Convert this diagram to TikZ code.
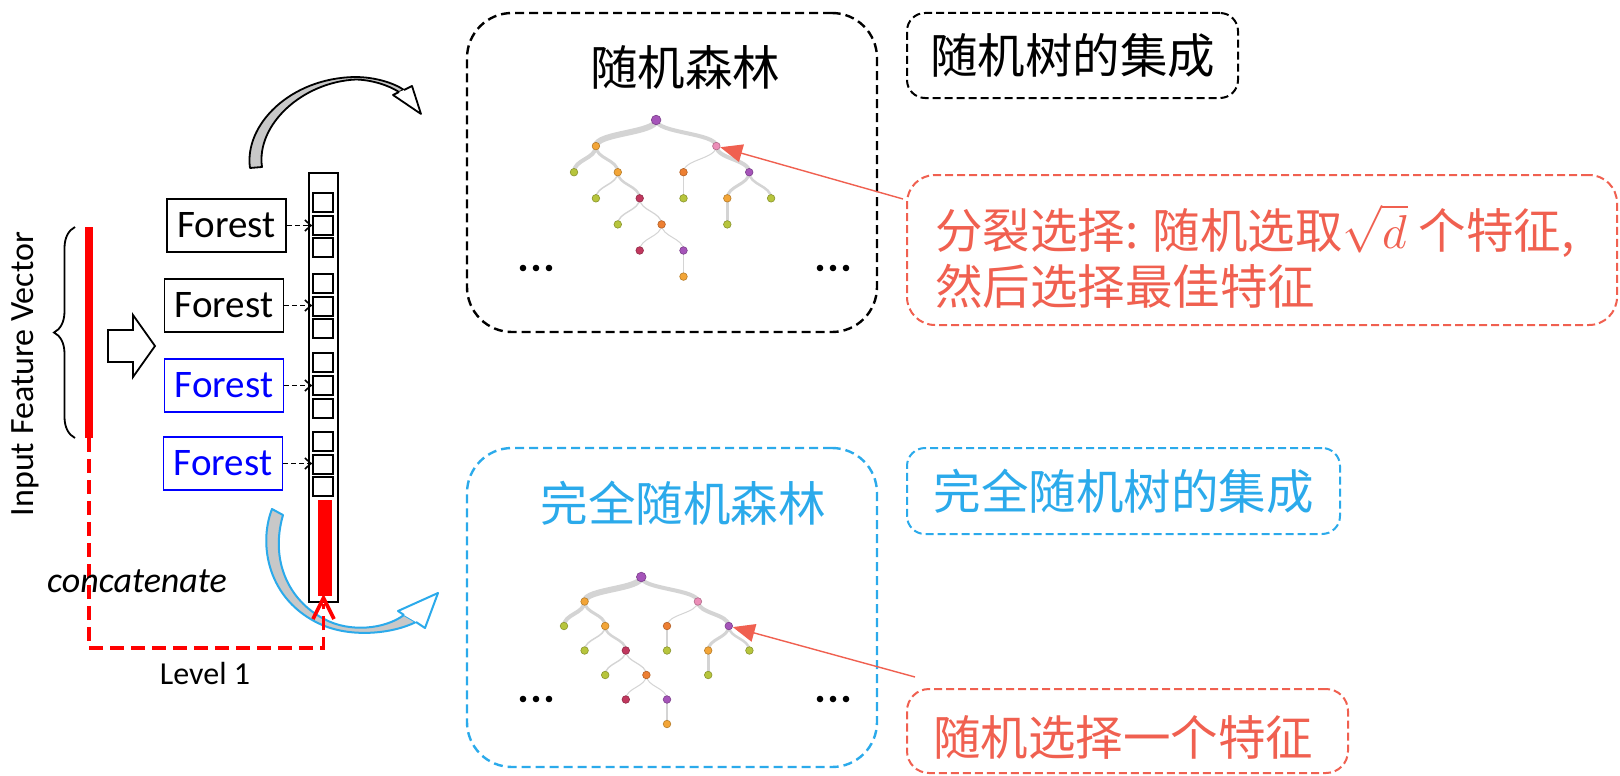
\documentclass[tikz,border=0pt]{standalone}
\usepackage{fontspec}
\usepackage{unicode-math}
\setmainfont{Carlito}
\newfontfamily\cjk{Noto Sans CJK SC}
\usetikzlibrary{arrows.meta,decorations.pathreplacing,calc}

\definecolor{fred}{RGB}{255,0,0}
\definecolor{fblue}{RGB}{0,0,255}
\definecolor{sky}{RGB}{43,170,235}
\definecolor{coral}{RGB}{240,96,80}
\definecolor{tpurple}{RGB}{165,84,185}
\definecolor{torange}{RGB}{243,165,55}
\definecolor{tpink}{RGB}{236,142,184}
\definecolor{tgreen}{RGB}{183,197,60}
\definecolor{tcrimson}{RGB}{193,55,94}
\definecolor{tdorange}{RGB}{237,127,50}
\definecolor{bodygray}{RGB}{200,200,200}
\definecolor{linkgray}{RGB}{212,212,212}

\newcommand\cjkbig{\cjk\fontsize{47.5}{56}\selectfont}

\tikzset{
  forestbox/.style={draw=black, line width=1.8pt, minimum width=119pt, minimum height=53pt,
    inner sep=0pt, font=\fontsize{39}{41}\selectfont},
  blueforest/.style={forestbox, draw=fblue, text=fblue, line width=1.5pt},
  slot/.style={draw, line width=1.8pt, minimum width=20pt, minimum height=19pt, inner sep=0pt},
  dasharrow/.style={draw, line width=1.6pt, dash pattern=on 5pt off 3pt,
    -{Straight Barb[length=6pt,width=11pt]}},
  reddash/.style={draw=fred, line width=3.6pt, dash pattern=on 14pt off 7pt},
  panel/.style={line width=2.4pt, dash pattern=on 9pt off 5pt, rounded corners=45pt,
    inner sep=0pt, minimum width=410pt, minimum height=319pt},
  tagbox/.style={line width=2pt, dash pattern=on 8pt off 4pt, rounded corners=18pt,
    inner sep=0pt, font=\cjkbig},
  pointer/.style={draw=coral, line width=1.4pt, -{Triangle[length=22pt,width=18pt]}},
  tn/.style={circle, fill=#1, draw=#1!75!black, line width=0.6pt, minimum size=7.6pt, inner sep=0pt},
  tdot/.style={circle, fill=black, minimum size=6.6pt, inner sep=0pt},
  tlink/.style={draw=linkgray, line cap=round},
}

% one curved link of a tree, parent #2 to child #3, width #1
\newcommand\tlinkto[3]{%
  \draw[tlink, line width=#1] (#2) .. controls ($(#2)!0.5!(#2|-#3)$) and ($(#3)!0.5!(#3|-#2)$) .. (#3);}

% a decision tree; #1 name prefix, #2,#3 origin, #4,#5 grid steps
\newcommand\decisiontree[5]{%
  \begin{scope}[shift={(#2,#3)}, x=#4pt, y=-#5pt]
    \coordinate (#1pr) at (3.75,0);
    \coordinate (#1pa) at (1,1);       \coordinate (#1pb) at (6.5,1);
    \coordinate (#1pa1) at (0,2);      \coordinate (#1pa2) at (2,2);
    \coordinate (#1pb1) at (5,2);      \coordinate (#1pb2) at (8,2);
    \coordinate (#1pa21) at (1,3);     \coordinate (#1pa22) at (3,3);
    \coordinate (#1pb11) at (5,3);     \coordinate (#1pb21) at (7,3);
    \coordinate (#1pb22) at (9,3);
    \coordinate (#1pa221) at (2,4);    \coordinate (#1pa222) at (4,4);
    \coordinate (#1pb211) at (7,4);
    \coordinate (#1pa2221) at (3,5);   \coordinate (#1pa2222) at (5,5);
    \coordinate (#1pa22221) at (5,6);
  \end{scope}
  \tlinkto{6pt}{#1pr}{#1pa}
  \tlinkto{4pt}{#1pr}{#1pb}
  \tlinkto{4pt}{#1pa}{#1pa1}
  \tlinkto{3pt}{#1pa}{#1pa2}
  \tlinkto{1.5pt}{#1pa2}{#1pa21}
  \tlinkto{2.5pt}{#1pa2}{#1pa22}
  \tlinkto{1.4pt}{#1pa22}{#1pa221}
  \tlinkto{1.2pt}{#1pa22}{#1pa222}
  \tlinkto{1pt}{#1pa222}{#1pa2221}
  \tlinkto{1pt}{#1pa222}{#1pa2222}
  \tlinkto{1.2pt}{#1pa2222}{#1pa22221}
  \tlinkto{1pt}{#1pb}{#1pb1}
  \tlinkto{4pt}{#1pb}{#1pb2}
  \tlinkto{1.6pt}{#1pb1}{#1pb11}
  \tlinkto{3pt}{#1pb2}{#1pb21}
  \tlinkto{2.5pt}{#1pb2}{#1pb22}
  \tlinkto{3pt}{#1pb21}{#1pb211}
  \node[tn=tpurple, minimum size=9.6pt] (#1r) at (#1pr) {};
  \node[tn=torange] (#1a) at (#1pa) {};
  \node[tn=tpink] (#1b) at (#1pb) {};
  \node[tn=tgreen] (#1a1) at (#1pa1) {};
  \node[tn=torange] (#1a2) at (#1pa2) {};
  \node[tn=tdorange] (#1b1) at (#1pb1) {};
  \node[tn=tpurple] (#1b2) at (#1pb2) {};
  \node[tn=tgreen] (#1a21) at (#1pa21) {};
  \node[tn=tcrimson] (#1a22) at (#1pa22) {};
  \node[tn=tgreen] (#1b11) at (#1pb11) {};
  \node[tn=torange] (#1b21) at (#1pb21) {};
  \node[tn=tgreen] (#1b22) at (#1pb22) {};
  \node[tn=tgreen] (#1a221) at (#1pa221) {};
  \node[tn=tdorange] (#1a222) at (#1pa222) {};
  \node[tn=tgreen] (#1b211) at (#1pb211) {};
  \node[tn=tcrimson] (#1a2221) at (#1pa2221) {};
  \node[tn=tpurple] (#1a2222) at (#1pa2222) {};
  \node[tn=torange] (#1a22221) at (#1pa22221) {};
}

\begin{document}
\begin{tikzpicture}[x=1pt, y=-1pt]
\useasboundingbox (0,0) rectangle (1620,776);
\fill[white] (0,0) rectangle (1620,776);

% ---------- input vector ----------
\node[rotate=90, font=\fontsize{34}{36}\selectfont] (ifv) at (25,374) {Input Feature Vector};
\draw[decorate, decoration={brace, amplitude=21pt}, line width=1.8pt] (75,438) -- (75,227);
\node[fill=fred, minimum width=8pt, minimum height=211pt, inner sep=0pt] (vec) at (89,332.5) {};

% hollow block arrow
\draw[line width=1.8pt, line join=miter]
  (108,330) -- (133,330) -- (133,315) -- (155,346) -- (133,377) -- (133,362) -- (108,362) -- cycle;

% ---------- forests ----------
\node[forestbox] (f1) at (226.5,225.5) {Forest};
\node[forestbox] (f2) at (224,305.5) {Forest};
\node[blueforest] (f3) at (224,385.5) {Forest};
\node[blueforest] (f4) at (223,463.5) {Forest};

% ---------- class vector column ----------
\node[draw, line width=1.8pt, minimum width=29pt, minimum height=429pt, inner sep=0pt] (col) at (323.5,387.5) {};
\foreach \yy [count=\i] in {202.5,225.5,247.5,283.5,306.5,328.5,362.5,385.5,408.5,441.5,464.5,486.5}
  \node[slot] (s\i) at (323,\yy) {};
\node[fill=fred, minimum width=14pt, minimum height=96pt, inner sep=0pt] (cvec) at (325,548) {};

\draw[dasharrow] (f1.east) -- (s2.west |- f1.east);
\draw[dasharrow] (f2.east) -- (s5.west |- f2.east);
\draw[dasharrow] (f3.east) -- (s8.west |- f3.east);
\draw[dasharrow] (f4.east) -- (s11.west |- f4.east);

% ---------- curved arrows ----------
% upper one: tapering body, then an open head
\filldraw[fill=bodygray, draw=black, line width=1.8pt, line join=round]
  (250,168) .. controls (244,125) and (290,78) .. (355,77)
  .. controls (375,77) and (394,83) .. (404,90) -- (399,92)
  .. controls (388,85) and (372,80) .. (356,79.5)
  .. controls (302,82) and (256,125) .. (262,167) -- cycle;
\filldraw[fill=white, draw=black, line width=1.8pt, line join=round]
  (404,90) -- (412,86) -- (421,114) -- (393,95) -- (399,92);

% lower one
\filldraw[fill=bodygray, draw=sky, line width=2pt, line join=round]
  (272,509) .. controls (258,545) and (268,600) .. (320,624)
  .. controls (350,638) and (392,634) .. (416,622) -- (404,615)
  .. controls (385,629) and (350,633) .. (324,619)
  .. controls (288,600) and (270,560) .. (283,515) -- cycle;
\filldraw[fill=white, draw=sky, line width=2pt, line join=round]
  (416,622) -- (425,628) -- (438,593) -- (398,611) -- (404,615);

% ---------- concatenation ----------
\coordinate (lvl) at (0,648);
\coordinate (cin) at (323.5,598);
\draw[reddash] (vec.south) -- (vec.south |- lvl) -- (cin |- lvl) -- ($(cin)+(0,6)$);
\draw[draw=fred, line width=3.6pt, line join=miter] ($(cin)+(-10.5,21)$) -- (cin) -- ($(cin)+(10.5,21)$);
\node[font=\itshape\fontsize{36}{38}\selectfont, anchor=base] (cat) at (137,592) {concatenate};
\node[font=\fontsize{32}{34}\selectfont] (lv) at (205,673) {Level 1};

% ---------- random forest panel ----------
\node[panel, draw=black] (rf) at (672,172.5) {};
\node[font=\cjkbig] (rft) at (685,67) {随机森林};
\decisiontree{t}{574}{120}{21.9}{26.1}
\foreach \xx [count=\i] in {523,536,549} \node[tdot] (tl\i) at (\xx,268) {};
\foreach \xx [count=\i] in {820,833,846} \node[tdot] (tr\i) at (\xx,268) {};

% ---------- completely random forest panel ----------
\node[panel, draw=sky] (crf) at (672,607.5) {};
\node[font=\cjkbig, text=sky] (crft) at (683,503) {完全随机森林};
\decisiontree{u}{564}{577}{20.6}{24.5}
\foreach \xx [count=\i] in {523,536,549} \node[tdot] (ul\i) at (\xx,699) {};
\foreach \xx [count=\i] in {820,833,846} \node[tdot] (ur\i) at (\xx,699) {};

% ---------- tags ----------
\node[tagbox, draw=black, minimum width=331pt, minimum height=85pt] (tg1) at (1072.5,55.5) {随机树的集成};
\node[tagbox, draw=sky, text=sky, minimum width=433pt, minimum height=86pt] (tg2) at (1123.5,491) {完全随机树的集成};

\node[line width=2pt, draw=coral, dash pattern=on 8pt off 4pt, rounded corners=28pt,
  minimum width=710pt, minimum height=150pt, inner sep=0pt] (cl1) at (1262,250) {};
\node[anchor=west, text=coral, font=\cjkbig, align=left, inner sep=0pt] (cl1t) at (935,256)
  {分裂选择: 随机选取$\sqrt{d}$ 个特征,\\然后选择最佳特征};

\node[line width=2pt, draw=coral, dash pattern=on 8pt off 4pt, rounded corners=22pt,
  minimum width=441pt, minimum height=84pt, inner sep=0pt] (cl2) at (1127.5,731) {};
\node[anchor=west, text=coral, font=\cjkbig, inner sep=0pt] (cl2t) at (933,737) {随机选择一个特征};

% ---------- pointers ----------
\coordinate (p1) at (903,199);
\coordinate (p2) at (915,677);
\draw[pointer] (p1) -- (tb);
\draw[pointer] (p2) -- (ub2);
\end{tikzpicture}
\end{document}
